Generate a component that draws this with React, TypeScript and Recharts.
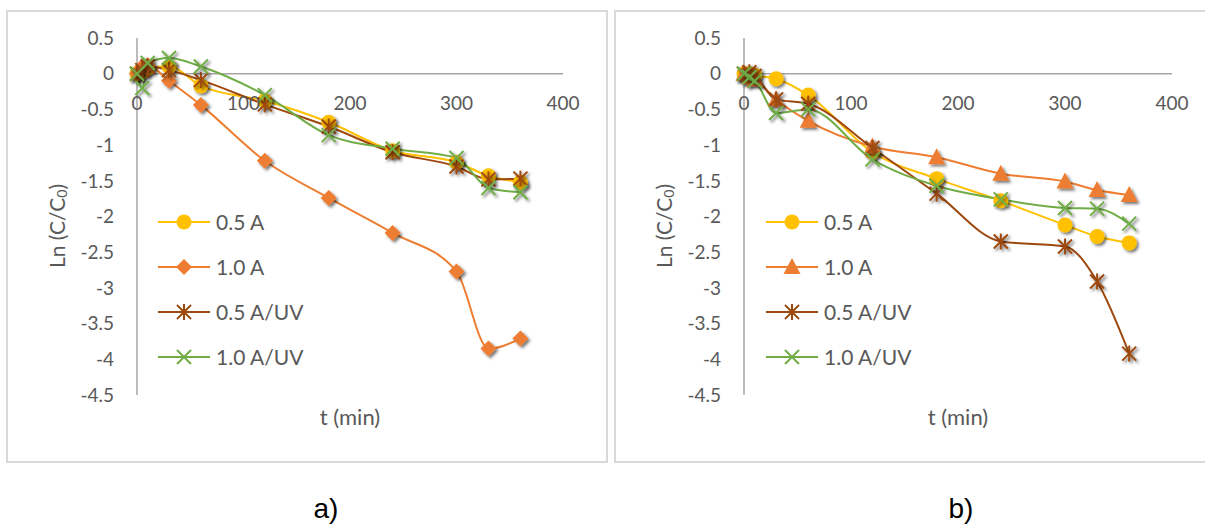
import { LineChart, Line, XAxis, YAxis, ReferenceLine, ReferenceDot, Legend } from "recharts"

const TIME = [0, 5, 10, 30, 60, 120, 180, 240, 300, 330, 360]
const NAMES = ["0.5 A", "1.0 A", "0.5 A/UV", "1.0 A/UV"]

// panel a)
const A_05 = [0, 0.03, 0.08, 0.1, -0.17, -0.38, -0.68, -1.08, -1.24, -1.43, -1.52]
const A_10 = [0, 0.1, 0.12, -0.1, -0.44, -1.22, -1.74, -2.23, -2.77, -3.85, -3.71]
const A_05UV = [0, 0.05, 0.1, 0.05, -0.09, -0.43, -0.74, -1.1, -1.3, -1.48, -1.47]
const A_10UV = [0, -0.2, 0.15, 0.22, 0.1, -0.3, -0.86, -1.05, -1.18, -1.6, -1.66]

// panel b)
const B_05 = [0, 0, -0.02, -0.07, -0.3, -1.1, -1.47, -1.78, -2.12, -2.28, -2.37]
const B_10 = [0, -0.05, -0.08, -0.36, -0.66, -1.02, -1.17, -1.4, -1.51, -1.63, -1.7]
const B_05UV = [0, 0.02, -0.03, -0.36, -0.42, -1.04, -1.68, -2.35, -2.42, -2.91, -3.92]
const B_10UV = [0, -0.05, -0.1, -0.55, -0.5, -1.2, -1.57, -1.76, -1.88, -1.89, -2.1]

const X_TICKS = [0, 100, 200, 300, 400]
const Y_TICKS = [0.5, 0, -0.5, -1, -1.5, -2, -2.5, -3, -3.5, -4, -4.5]

const COLORS = ["#FFC000", "#ED7D31", "#9E480E", "#70AD47"]
const FONT = 'Lato, "Open Sans", sans-serif'
const TEXT = "#595959"
const AXIS = "#a6a6a6"

type Shape = "circle" | "diamond" | "triangle" | "star" | "x"

function Marker({ shape, cx, cy, color }: { shape: Shape; cx: number; cy: number; color: string }) {
  if (shape === "circle") return <circle cx={cx} cy={cy} r={7.5} fill={color} />
  if (shape === "diamond")
    return <polygon points={`${cx},${cy - 8} ${cx + 8},${cy} ${cx},${cy + 8} ${cx - 8},${cy}`} fill={color} />
  if (shape === "triangle")
    return <polygon points={`${cx},${cy - 9} ${cx + 8.5},${cy + 7} ${cx - 8.5},${cy + 7}`} fill={color} />
  const s = 7
  return (
    <g stroke={color} strokeWidth={2}>
      <line x1={cx - s} y1={cy - s} x2={cx + s} y2={cy + s} />
      <line x1={cx - s} y1={cy + s} x2={cx + s} y2={cy - s} />
      {shape === "star" && <line x1={cx} y1={cy - s - 1} x2={cx} y2={cy + s + 1} />}
    </g>
  )
}

interface Panel {
  left: number
  width: number
  marginLeft: number
  marginRight: number
  caption: string
  captionX: number
  series: number[][]
  shapes: Shape[]
}

function YTitle(props: any) {
  const { x } = props.viewBox
  const cx = x + 19
  const cy = 216
  return (
    <text
      x={cx}
      y={cy}
      transform={`rotate(-90, ${cx}, ${cy})`}
      textAnchor="middle"
      dominantBaseline="central"
      fill={TEXT}
      fontSize={21}
      fontFamily={FONT}
    >
      Ln (C/C<tspan fontSize={14} dy={5}>0</tspan>
      <tspan dy={-5}>)</tspan>
    </text>
  )
}

function Chart({ p }: { p: Panel }) {
  const data = TIME.map((t, i) => ({
    t,
    s0: p.series[0][i],
    s1: p.series[1][i],
    s2: p.series[2][i],
    s3: p.series[3][i],
  }))

  const legend = () => (
    <div style={{ display: "flex", flexDirection: "column" }}>
      {NAMES.map((n, i) => (
        <div key={n} style={{ display: "flex", alignItems: "center", height: 45 }}>
          <svg width={52} height={22}>
            <line x1={0} y1={11} x2={52} y2={11} stroke={COLORS[i]} strokeWidth={2} />
            <Marker shape={p.shapes[i]} cx={26} cy={11} color={COLORS[i]} />
          </svg>
          <span style={{ marginLeft: 6, fontSize: 21, color: TEXT, fontFamily: FONT, lineHeight: 1 }}>{n}</span>
        </div>
      ))}
    </div>
  )

  return (
    <>
      <div style={{ position: "absolute", left: p.left, top: 10, width: p.width, height: 453 }}>
        <div
          style={{
            position: "absolute",
            inset: 0,
            border: "2px solid #d9d9d9",
            boxSizing: "border-box",
          }}
        />
        <div style={{ position: "absolute", left: 0, top: 0 }}>
          <LineChart
            width={p.width}
            height={453}
            data={data}
            margin={{ top: 28, right: p.marginRight, bottom: 28, left: p.marginLeft }}
          >
            <XAxis
              dataKey="t"
              type="number"
              domain={[0, 400]}
              ticks={X_TICKS}
              tick={false}
              axisLine={false}
              tickLine={false}
              height={40}
              label={{ value: "t (min)", position: "insideBottom", offset: 10, fill: TEXT, fontSize: 22, fontFamily: FONT }}
            />
            <YAxis
              type="number"
              domain={[-4.5, 0.5]}
              ticks={Y_TICKS}
              interval={0}
              width={100}
              axisLine={{ stroke: AXIS, strokeWidth: 1.5 }}
              tickLine={false}
              tickSize={0}
              tickMargin={23}
              tick={{ fill: TEXT, fontSize: 19, fontFamily: FONT }}
              label={{ content: YTitle }}
            />
            <ReferenceLine y={0} stroke={AXIS} strokeWidth={1.5} />
            {X_TICKS.map((t) => (
              <ReferenceDot
                key={t}
                x={t}
                y={0}
                r={0}
                fill="none"
                stroke="none"
                label={{ value: String(t), position: "bottom", offset: 23, fill: TEXT, fontSize: 19, fontFamily: FONT }}
              />
            ))}
            {NAMES.map((n, i) => (
              <Line
                key={n}
                name={n}
                dataKey={`s${i}`}
                type="monotone"
                stroke={COLORS[i]}
                strokeWidth={2}
                isAnimationActive={false}
                activeDot={false}
                dot={(d: any) => (
                  <g key={`${n}-${d.index}`} filter="url(#mshadow)">
                    <Marker shape={p.shapes[i]} cx={d.cx} cy={d.cy} color={COLORS[i]} />
                  </g>
                )}
              />
            ))}
            <Legend
              layout="vertical"
              align="center"
              verticalAlign="middle"
              content={legend}
              wrapperStyle={{ left: 152, top: 189, width: 200 }}
            />
          </LineChart>
        </div>
      </div>
      <div
        style={{
          position: "absolute",
          left: p.captionX - 50,
          width: 100,
          top: 495,
          textAlign: "center",
          fontFamily: '"Liberation Sans", Arial, sans-serif',
          fontSize: 28,
          color: "#000",
          lineHeight: 1,
        }}
      >
        {p.caption}
      </div>
    </>
  )
}

const PANEL_A: Panel = {
  left: 6,
  width: 602,
  marginLeft: 31,
  marginRight: 45,
  caption: "a)",
  captionX: 326,
  series: [A_05, A_10, A_05UV, A_10UV],
  shapes: ["circle", "diamond", "star", "x"],
}

const PANEL_B: Panel = {
  left: 614,
  width: 600,
  marginLeft: 30,
  marginRight: 42,
  caption: "b)",
  captionX: 961,
  series: [B_05, B_10, B_05UV, B_10UV],
  shapes: ["circle", "triangle", "star", "x"],
}

export default function App() {
  return (
    <div
      style={{
        position: "absolute",
        left: 0,
        top: 0,
        width: 1205,
        height: 524,
        overflow: "hidden",
        background: "#fff",
      }}
    >
      <svg width={0} height={0} style={{ position: "absolute" }}>
        <defs>
          <filter id="mshadow" x="-60%" y="-60%" width="220%" height="220%">
            <feDropShadow dx={2} dy={2} stdDeviation={1.8} floodColor="#000" floodOpacity={0.55} />
          </filter>
        </defs>
      </svg>
      <Chart p={PANEL_A} />
      <Chart p={PANEL_B} />
    </div>
  )
}
